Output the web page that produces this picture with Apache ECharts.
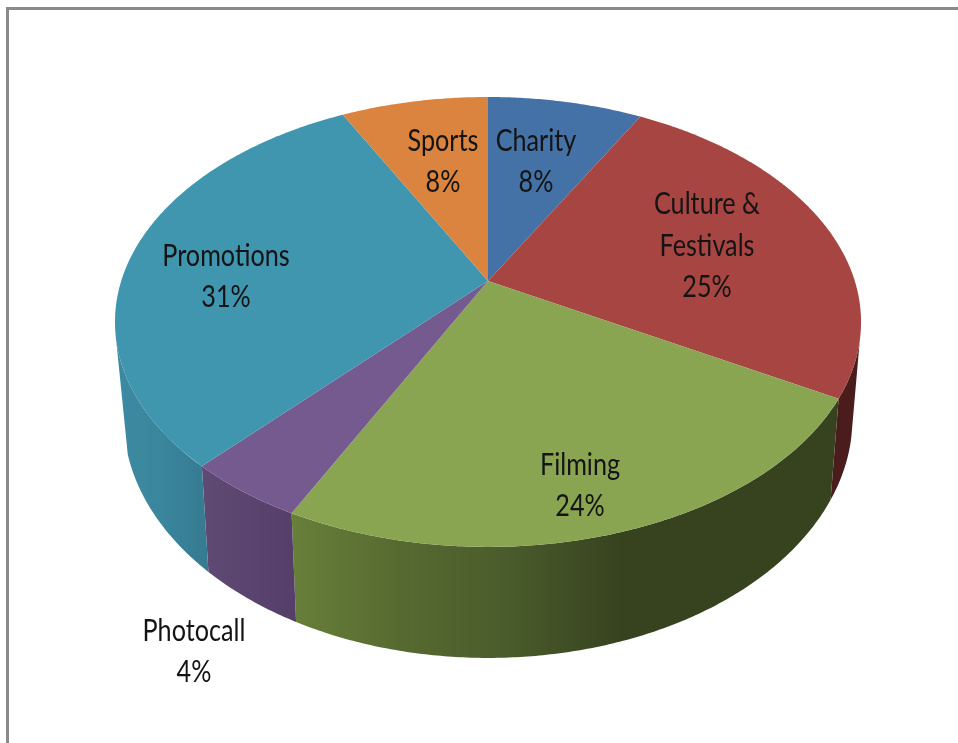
<!DOCTYPE html>
<html>
<head>
<meta charset="utf-8">
<style>html,body{margin:0;padding:0;background:#fff}#c{width:958px;height:743px}</style>
<script src="https://cdn.jsdelivr.net/npm/echarts@6/dist/echarts.min.js"></script>
</head>
<body>
<div id="c"></div>
<script>
const categories = ['Charity', 'Culture &\nFestivals', 'Filming', 'Photocall', 'Promotions', 'Sports'];
const values = [8, 25.2, 24.2, 4.4, 30.6, 7.6];
const topColors = ['#4471a6', '#a74543', '#8aa552', '#745a8f', '#4095af', '#da843f'];
const wallStops = [
  [[0, '#2c4766'], [1, '#2c4766']],
  [[0, '#4a1c1c'], [1, '#4a1c1c']],
  [[0, '#687f3a'], [0.2, '#566a30'], [0.38, '#4b5d2c'], [0.6, '#37431f'], [1, '#37431f']],
  [[0, '#5f4a74'], [1, '#553f6a']],
  [[0, '#3c8aa1'], [0.5, '#3a869d'], [1, '#357a90']],
  [[0, '#8a5426'], [1, '#8a5426']]
];
const labelCenters = [[536, 162], [707, 246], [580, 486], [194, 652], [226, 277], [443, 162]];
const view = {cx: 488, topY: 281, topA: 366.8, topB: 217.5, botY: 374.3, botA: 358.4, botB: 232, k: 0.182};
const wallFrom = 105, wallToTop = 257, wallToBot = 251;
const total = values.reduce((a, b) => a + b, 0);
const starts = values.map((_, i) => values.slice(0, i).reduce((a, b) => a + b, 0) / total * 360);

function rim(deg, y0, a, b) {
  const r = deg * Math.PI / 180, u = Math.sin(r), v = -Math.cos(r), d = 1 - view.k * v;
  return [view.cx + a * u / d, y0 + b * v / d];
}
const topRim = deg => rim(deg, view.topY, view.topA, view.topB);
const botRim = deg => rim(deg, view.botY, view.botA, view.botB);
function arc(fn, from, to) {
  const n = Math.max(2, Math.ceil(Math.abs(to - from) * 2)), pts = [];
  for (let i = 0; i <= n; i++) pts.push(fn(from + (to - from) * i / n));
  return pts;
}
function renderWall(params, api) {
  const i = api.value(0), from = starts[i], to = from + api.value(1) / total * 360;
  const a = Math.max(from, wallFrom), bTop = Math.min(to, wallToTop), bBot = Math.min(to, wallToBot);
  if (bTop <= a) return {type: 'group', children: []};
  const pts = arc(topRim, a, bTop).concat(arc(botRim, bBot, a));
  return {
    type: 'polygon',
    shape: {points: pts},
    style: {fill: new echarts.graphic.LinearGradient(0, 0, 1, 0, wallStops[i].map(s => ({offset: s[0], color: s[1]})))}
  };
}
function renderTop(params, api) {
  const i = api.value(0), from = starts[i], to = from + api.value(1) / total * 360;
  const pts = [[view.cx, view.topY]].concat(arc(topRim, from, to));
  return {
    type: 'group',
    children: [
      {type: 'polygon', shape: {points: pts}, style: {fill: topColors[i]}},
      {
        type: 'text', z2: 10,
        x: labelCenters[i][0], y: labelCenters[i][1], scaleX: 0.84,
        style: {
          x: 0, y: 0,
          text: categories[i] + '\n' + Math.round(api.value(1)) + '%',
          fill: '#141414', font: '30px Lato, "Liberation Sans", sans-serif',
          lineHeight: 41.5, align: 'center', verticalAlign: 'middle'
        }
      }
    ]
  };
}
const rows = categories.map((c, i) => [i, values[i], c]);
const chart = echarts.init(document.getElementById('c'), null, {renderer: 'canvas'});
chart.setOption({
  animation: false,
  backgroundColor: '#ffffff',
  graphic: [
    {type: 'line', silent: true, z: 0, shape: {x1: 6, y1: 8.5, x2: 958, y2: 8.5}, style: {stroke: '#8a8a8a', lineWidth: 3}},
    {type: 'line', silent: true, z: 0, shape: {x1: 7.5, y1: 7, x2: 7.5, y2: 743}, style: {stroke: '#8a8a8a', lineWidth: 3}}
  ],
  series: [
    {type: 'custom', name: 'walls', coordinateSystem: 'none', z: 2, silent: true, data: rows, renderItem: renderWall},
    {type: 'custom', name: 'tops', coordinateSystem: 'none', z: 3, silent: true, data: rows, renderItem: renderTop}
  ]
});
</script>
</body>
</html>
